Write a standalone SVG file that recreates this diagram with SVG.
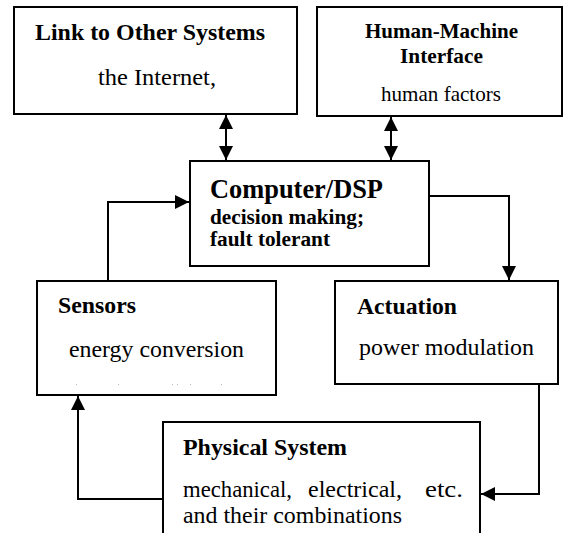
<svg xmlns="http://www.w3.org/2000/svg" width="564" height="533" viewBox="0 0 564 533">
  <style>
    .box { fill: #ffffff; stroke: #000000; stroke-width: 2; }
    .wire { fill: none; stroke: #000000; stroke-width: 2; }
    .lbl { font-family: 'Liberation Serif', 'Times New Roman', serif; fill: #000000; }
    .h { font-weight: bold; font-size: 23.8px; }
    .hs { font-weight: bold; font-size: 21px; }
    .hl { font-weight: bold; font-size: 26.4px; }
    .b { font-weight: bold; font-size: 21.2px; }
    .t { font-size: 23.8px; }
    .ts { font-size: 21px; }
    .ghost { fill: #b8b8b8; }
  </style>
  <defs>
    <marker id="head" markerUnits="userSpaceOnUse" markerWidth="14" markerHeight="14" viewBox="0 0 14 14" refX="14" refY="7" orient="auto-start-reverse">
      <path d="M0,0 L14,7 L0,14 z" fill="#000000"/>
    </marker>
  </defs>

  <rect width="564" height="533" fill="#ffffff"/>

  <!-- connectors -->
  <g id="connectors">
    <path class="wire" d="M226,115 L226,160" marker-start="url(#head)" marker-end="url(#head)"/>
    <path class="wire" d="M391,117 L391,160" marker-start="url(#head)" marker-end="url(#head)"/>
    <path class="wire" d="M108,281 L108,202 L189,202" marker-end="url(#head)"/>
    <path class="wire" d="M429,196 L509,196 L509,280" marker-end="url(#head)"/>
    <path class="wire" d="M539,384 L539,494 L481,494" marker-end="url(#head)"/>
    <path class="wire" d="M163,499 L78,499 L78,396" marker-end="url(#head)"/>
  </g>

  <g id="link" class="lbl">
    <rect class="box" x="14" y="7" width="283" height="107"/>
    <text class="h" x="35" y="40" textLength="230" lengthAdjust="spacingAndGlyphs">Link to Other Systems</text>
    <text class="t" x="98" y="85" textLength="118" lengthAdjust="spacingAndGlyphs">the Internet,</text>
  </g>

  <g id="hmi" class="lbl">
    <rect class="box" x="317" y="7" width="245" height="109"/>
    <text class="hs" x="365" y="38" textLength="153" lengthAdjust="spacingAndGlyphs">Human-Machine</text>
    <text class="hs" x="400" y="63" textLength="83" lengthAdjust="spacingAndGlyphs">Interface</text>
    <text class="ts" x="381" y="101" textLength="120" lengthAdjust="spacingAndGlyphs">human factors</text>
  </g>

  <g id="computer" class="lbl">
    <rect class="box" x="190" y="161" width="239" height="105"/>
    <text class="hl" x="210" y="198" textLength="173" lengthAdjust="spacingAndGlyphs">Computer/DSP</text>
    <text class="b" x="210" y="224" textLength="154" lengthAdjust="spacingAndGlyphs">decision making;</text>
    <text class="b" x="210" y="246" textLength="120" lengthAdjust="spacingAndGlyphs">fault tolerant</text>
  </g>

  <g id="sensors" class="lbl">
    <rect class="box" x="37" y="281" width="239" height="114"/>
    <text class="h" x="58" y="313" textLength="78" lengthAdjust="spacingAndGlyphs">Sensors</text>
    <text class="t" x="69" y="357" textLength="175" lengthAdjust="spacingAndGlyphs">energy conversion</text>
    <!-- faint specks along the lower edge -->
    <rect class="ghost" x="76" y="384" width="1" height="1"/>
    <rect class="ghost" x="118" y="384" width="1" height="1"/>
    <rect class="ghost" x="172" y="384" width="1" height="1"/>
    <rect class="ghost" x="177" y="384" width="1" height="1"/>
    <rect class="ghost" x="190" y="384" width="1" height="1"/>
    <rect class="ghost" x="221" y="384" width="1" height="1"/>
  </g>

  <g id="actuation" class="lbl">
    <rect class="box" x="335" y="281" width="223" height="103"/>
    <text class="h" x="357" y="314" textLength="100" lengthAdjust="spacingAndGlyphs">Actuation</text>
    <text class="t" x="359" y="355" textLength="175" lengthAdjust="spacingAndGlyphs">power modulation</text>
  </g>

  <g id="physical" class="lbl">
    <rect class="box" x="163" y="422" width="317" height="130"/>
    <text class="h" x="183" y="455" textLength="164" lengthAdjust="spacingAndGlyphs">Physical System</text>
    <text class="t" x="183" y="497" textLength="109" lengthAdjust="spacingAndGlyphs">mechanical,</text>
    <text class="t" x="308" y="497" textLength="94" lengthAdjust="spacingAndGlyphs">electrical,</text>
    <text class="t" x="425" y="497" textLength="38" lengthAdjust="spacingAndGlyphs">etc.</text>
    <text class="t" x="183" y="523" textLength="219" lengthAdjust="spacingAndGlyphs">and their combinations</text>
  </g>
</svg>
